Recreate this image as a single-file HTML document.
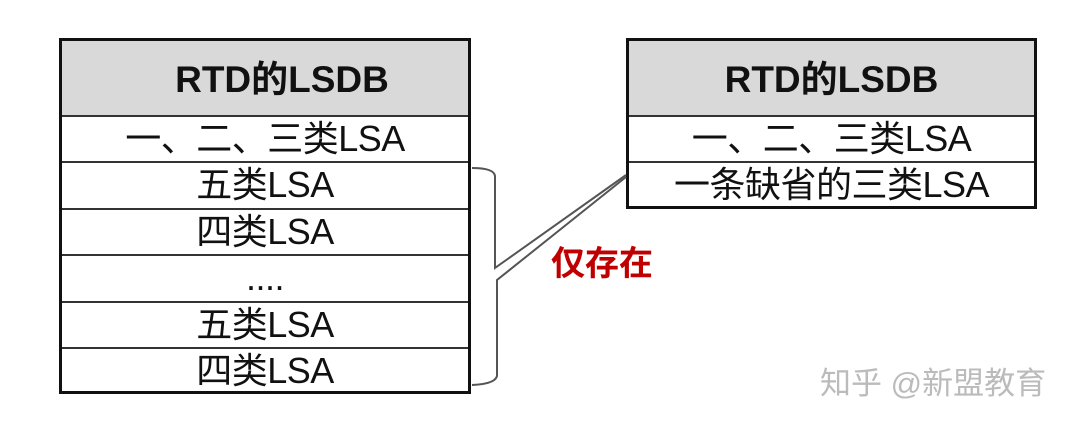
<!DOCTYPE html>
<html><head><meta charset="utf-8"><style>
body{margin:0;width:1080px;height:424px;background:#fff;position:relative;overflow:hidden;font-family:"Liberation Sans","Noto Sans CJK SC",sans-serif;}
.t{position:absolute;border:3px solid #111;box-sizing:border-box;}
.r{position:absolute;left:0;right:0;border-top:2px solid #333;text-align:center;font-size:36px;color:#111;line-height:44px;letter-spacing:-0.5px;}
.h{position:absolute;left:0;right:0;top:0;background:#d9d9d9;text-align:center;font-weight:bold;font-size:37px;color:#111;}
</style></head><body>
<div class="t" style="left:59px;top:38px;width:412px;height:356px;">
<div class="h" style="height:75px;line-height:78px;padding-left:34px;box-sizing:border-box;">RTD的LSDB</div>
<div class="r" style="top:74px;">一、二、三类LSA</div>
<div class="r" style="top:120px;">五类LSA</div>
<div class="r" style="top:167px;">四类LSA</div>
<div class="r" style="top:213px;">....</div>
<div class="r" style="top:260px;">五类LSA</div>
<div class="r" style="top:306px;">四类LSA</div>
</div>
<div class="t" style="left:626px;top:38px;width:411px;height:171px;">
<div class="h" style="height:75px;line-height:78px;">RTD的LSDB</div>
<div class="r" style="top:74px;">一、二、三类LSA</div>
<div class="r" style="top:120px;">一条缺省的三类LSA</div>
</div>
<svg style="position:absolute;left:0;top:0" width="1080" height="424">
<path d="M472 168 Q494 168 495 176 L495 268 L626 175" fill="none" stroke="#555" stroke-width="2"/>
<path d="M626 177 L497 280 L497 376 Q495 384 472 385" fill="none" stroke="#555" stroke-width="2"/>
</svg>
<div style="position:absolute;left:551px;top:236px;font-size:34px;font-weight:bold;color:#c00000;">仅存在</div>
<div style="position:absolute;left:820px;top:358px;font-size:31px;color:#bbb;">知乎 @新盟教育</div>
</body></html>
